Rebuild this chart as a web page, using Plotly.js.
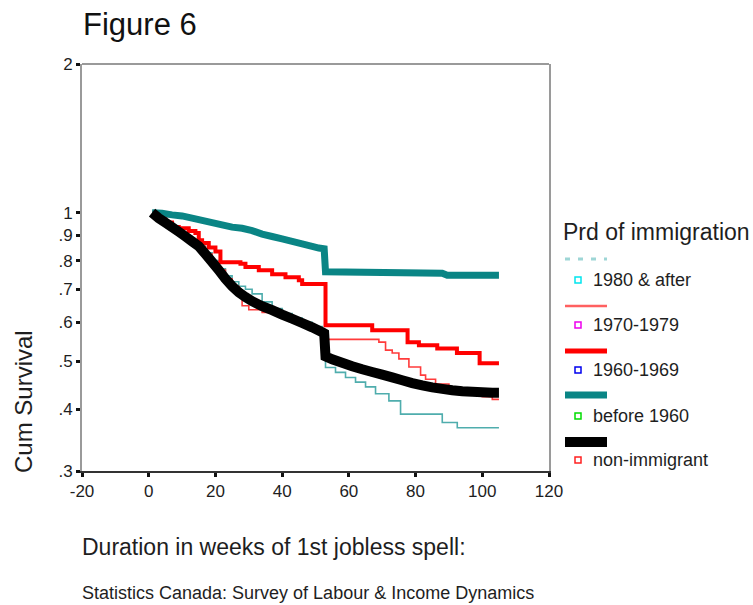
<!DOCTYPE html>
<html>
<head>
<meta charset="utf-8">
<script src="https://cdn.plot.ly/plotly-3.0.1.min.js"></script>
<style>
  html, body { margin: 0; padding: 0; background: #fff; }
  #chart { width: 753px; height: 605px; }
</style>
</head>
<body>
<div id="chart"></div>
<script>
// Cumulative survival by period of immigration (weeks of first jobless spell)

const seriesNames = ["1980 & after", "1970-1979", "1960-1969", "before 1960", "non-immigrant"];

const weeks1980 = [1, 3, 5, 7, 9, 11, 13, 15, 17, 19, 21, 23, 25, 27, 29, 31, 34, 37, 40, 43, 46, 49, 52, 53, 56, 59, 62, 65, 68, 72, 75.5, 88, 92.5, 105];
const surv1980  = [1.0, 0.975, 0.955, 0.935, 0.915, 0.895, 0.875, 0.855, 0.83, 0.8, 0.77, 0.745, 0.725, 0.71, 0.7, 0.685, 0.66, 0.64, 0.625, 0.612, 0.6, 0.588, 0.578, 0.486, 0.475, 0.464, 0.454, 0.444, 0.43, 0.416, 0.391, 0.376, 0.367, 0.367];

const weeks1970 = [1, 3, 5, 7, 9, 11, 13, 15, 17, 19, 21, 23, 25, 27, 28, 30, 34, 40, 43, 46, 49, 52, 53, 69, 71, 73, 75, 78, 81.5, 83, 86, 90, 95, 100, 103, 105];
const surv1970  = [1.0, 0.975, 0.955, 0.935, 0.915, 0.895, 0.875, 0.855, 0.825, 0.795, 0.765, 0.735, 0.71, 0.69, 0.648, 0.636, 0.628, 0.615, 0.605, 0.593, 0.582, 0.572, 0.554, 0.547, 0.527, 0.52, 0.506, 0.487, 0.469, 0.46, 0.45, 0.44, 0.43, 0.424, 0.419, 0.419];

const weeks1960 = [1, 3, 5, 7, 9, 12, 14, 15, 16, 18, 20, 21.5, 27.5, 29, 33, 37, 41, 45, 46, 53, 67, 77.6, 81, 86.5, 92.4, 99.2, 105];
const surv1960  = [1.0, 0.975, 0.955, 0.935, 0.93, 0.918, 0.91, 0.88, 0.868, 0.85, 0.835, 0.794, 0.788, 0.776, 0.765, 0.751, 0.74, 0.73, 0.717, 0.592, 0.578, 0.547, 0.539, 0.531, 0.52, 0.496, 0.496];

const weeksPre60 = [1, 4, 7, 10, 13, 16, 19, 22, 25, 28, 31, 34, 37, 40, 43, 46, 49, 51, 52.6, 53, 88, 89.5, 105];
const survPre60  = [1.0, 0.997, 0.99, 0.985, 0.975, 0.965, 0.955, 0.945, 0.935, 0.93, 0.92, 0.905, 0.895, 0.885, 0.875, 0.865, 0.855, 0.848, 0.845, 0.759, 0.754, 0.747, 0.747];

const weeksNon = [1, 3, 5, 7, 9, 11, 13, 15, 17, 19, 21, 23, 25, 27, 29, 31, 34, 37, 40, 43, 46, 49, 52, 52.6, 53, 55, 58, 61, 64, 67, 70, 73, 76, 79, 82, 85, 88, 91, 94, 97, 100, 103, 105];
const survNon  = [1.0, 0.975, 0.955, 0.935, 0.915, 0.895, 0.875, 0.855, 0.825, 0.795, 0.765, 0.735, 0.71, 0.69, 0.675, 0.662, 0.647, 0.635, 0.622, 0.61, 0.598, 0.586, 0.573, 0.57, 0.512, 0.505, 0.497, 0.489, 0.482, 0.476, 0.47, 0.464, 0.458, 0.452, 0.447, 0.443, 0.44, 0.437, 0.435, 0.434, 0.433, 0.432, 0.432];

const xTicks = [-20, 0, 20, 40, 60, 80, 100, 120];
const yTickVals = [0.3, 0.4, 0.5, 0.6, 0.7, 0.8, 0.9, 1, 2];
const yTickText = [".3", ".4", ".5", ".6", ".7", ".8", ".9", "1", "2"];

// Styling per series (drawing order: thin lines first, black on top)
const lineColors  = ["#4fadad", "#ff3b3b", "#ff0000", "#0a8585", "#000000"];
const lineWidths  = [1.6, 1.6, 4, 7, 10];
const lineShapes  = ["hv", "hv", "hv", "linear", "linear"];
const keyLineColors = ["#9ed6d6", "#ff6060", "#ff0000", "#0a8585", "#000000"];
const keyLineWidths = [3, 2.5, 5, 7, 10];
const keyDash = ["5px,8px", "solid", "solid", "solid", "solid"];
const keyMarkColors = ["#00e5ee", "#ee00ee", "#0000ee", "#00dd00", "#ff2020"];

const xs = [weeks1980, weeks1970, weeks1960, weeksPre60, weeksNon];
const ys = [surv1980, surv1970, surv1960, survPre60, survNon];

const traces = seriesNames.map((name, i) => ({
  type: "scatter",
  mode: "lines",
  name: name,
  x: xs[i],
  y: ys[i],
  line: { color: lineColors[i], width: lineWidths[i], shape: lineShapes[i], simplify: false },
  showlegend: false,
  hoverinfo: "skip"
}));

const W = 753, H = 605;
const M = { l: 82, r: 204, t: 64, b: 134 };
const plotW = W - M.l - M.r, plotH = H - M.t - M.b;
const px = x => (x - M.l) / plotW;
const py = y => (H - M.b - y) / plotH;

const FONT = "Liberation Sans, Arial, sans-serif";
const TXT = "#1e1e1e";

const shapes = [
  // grey upper frame edge
  { type: "line", xref: "paper", yref: "paper", x0: 0, x1: 1, y0: 1, y1: 1,
    line: { color: "#9a9a9a", width: 2 } }
];
const annotations = [
  { xref: "paper", yref: "paper", x: px(81), y: py(24), xanchor: "left", yanchor: "middle",
    text: "Figure 6", showarrow: false, font: { family: FONT, size: 31, color: "#111" } },
  { xref: "paper", yref: "paper", x: px(23), y: py(401), xanchor: "center", yanchor: "middle",
    text: "Cum Survival", textangle: -90, showarrow: false, font: { family: FONT, size: 24, color: TXT } },
  { xref: "paper", yref: "paper", x: px(80), y: py(547), xanchor: "left", yanchor: "middle",
    text: "Duration in weeks of 1st jobless spell:", showarrow: false, font: { family: FONT, size: 23, color: TXT } },
  { xref: "paper", yref: "paper", x: px(80), y: py(593), xanchor: "left", yanchor: "middle",
    text: "Statistics Canada: Survey of Labour &amp; Income Dynamics", showarrow: false, font: { family: FONT, size: 18, color: TXT } },
  { xref: "paper", yref: "paper", x: px(561), y: py(232), xanchor: "left", yanchor: "middle",
    text: "Prd of immigration", showarrow: false, font: { family: FONT, size: 23, color: TXT } }
];

// Key: a line sample above each label, with a small hollow square beside the label
const keyLineY = [259, 306, 351, 395, 442];
const keyLabelY = [280, 325, 370, 416, 460];
seriesNames.forEach((name, i) => {
  shapes.push({ type: "line", xref: "paper", yref: "paper",
    x0: px(565), x1: px(607), y0: py(keyLineY[i]), y1: py(keyLineY[i]),
    line: { color: keyLineColors[i], width: keyLineWidths[i], dash: keyDash[i] } });
  shapes.push({ type: "rect", xref: "paper", yref: "paper",
    x0: px(575), x1: px(581), y0: py(keyLabelY[i] - 3), y1: py(keyLabelY[i] + 3),
    line: { color: keyMarkColors[i], width: 1.5 }, fillcolor: "rgba(0,0,0,0)" });
  annotations.push({ xref: "paper", yref: "paper", x: px(591), y: py(keyLabelY[i]),
    xanchor: "left", yanchor: "middle", text: name.replace("&", "&amp;"), showarrow: false,
    font: { family: FONT, size: 18, color: TXT } });
});

const layout = {
  width: W, height: H,
  margin: M,
  paper_bgcolor: "#fff",
  plot_bgcolor: "#fff",
  showlegend: false,
  xaxis: {
    range: [-20, 120],
    tickmode: "array", tickvals: xTicks, ticktext: xTicks.map(String),
    ticks: "outside", ticklen: 4, tickwidth: 3, tickcolor: "#111",
    showline: true, linecolor: "#333", linewidth: 2,
    showgrid: false, zeroline: false,
    tickfont: { family: FONT, size: 17, color: TXT }
  },
  yaxis: {
    type: "log",
    range: [Math.log10(0.3), Math.log10(2)],
    tickmode: "array", tickvals: yTickVals, ticktext: yTickText,
    ticks: "outside", ticklen: 4, tickwidth: 3, tickcolor: "#111",
    showline: true, linecolor: "#9a9a9a", linewidth: 2, mirror: true,
    showgrid: false, zeroline: false,
    tickfont: { family: FONT, size: 17, color: TXT }
  },
  shapes: shapes,
  annotations: annotations
};

Plotly.newPlot("chart", traces, layout, { staticPlot: true, displayModeBar: false });
</script>
</body>
</html>
